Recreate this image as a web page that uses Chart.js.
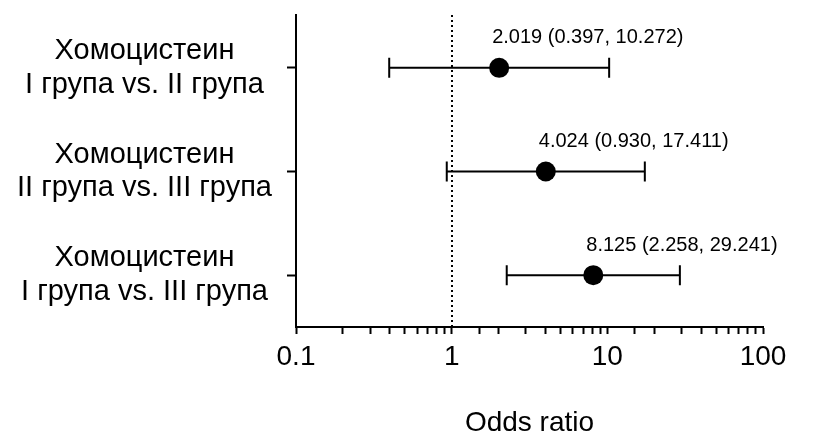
<!DOCTYPE html>
<html>
<head>
<meta charset="utf-8">
<script src="https://cdn.jsdelivr.net/npm/chart.js@4/dist/chart.umd.min.js"></script>
<style>
  html, body { margin: 0; padding: 0; background: #fff; }
  #wrap { width: 814px; height: 439px; position: relative; }
</style>
</head>
<body>
<div id="wrap"><canvas id="chart"></canvas></div>
<script>
// rows, top to bottom
const rowLabels = [
  ['Хомоцистеин', 'I група vs. II група'],
  ['Хомоцистеин', 'II група vs. III група'],
  ['Хомоцистеин', 'I група vs. III група'],
];
const rowIds = [1, 2, 3];
const oddsRatio = [2.019, 4.024, 8.125];
const ciLow = [0.397, 0.930, 2.258];
const ciHigh = [10.272, 17.411, 29.241];

const xTickValues = [0.1, 1, 10, 100];
const xTickLabels = ['0.1', '1', '10', '100'];
const refLine = 1;

const FONT = '"Liberation Sans", Arial, Helvetica, sans-serif';
const INK = '#000';

// whiskers + dotted reference line, under the points
const forestPlugin = {
  id: 'forest',
  beforeDatasetsDraw(chart) {
    const { ctx, chartArea, scales: { x, y } } = chart;
    ctx.save();
    ctx.strokeStyle = INK;

    const rx = Math.round(x.getPixelForValue(refLine));
    ctx.lineWidth = 2;
    ctx.setLineDash([2, 3]);
    ctx.beginPath();
    ctx.moveTo(rx, chartArea.top);
    ctx.lineTo(rx, chartArea.bottom);
    ctx.stroke();
    ctx.setLineDash([]);

    rowIds.forEach((r, i) => {
      const py = y.getPixelForValue(r);
      const x0 = x.getPixelForValue(ciLow[i]);
      const x1 = x.getPixelForValue(ciHigh[i]);
      ctx.beginPath();
      ctx.moveTo(x0, py);
      ctx.lineTo(x1, py);
      ctx.moveTo(x0, py - 10);
      ctx.lineTo(x0, py + 10);
      ctx.moveTo(x1, py - 10);
      ctx.lineTo(x1, py + 10);
      ctx.stroke();
    });
    ctx.restore();
  },
  afterDatasetsDraw(chart) {
    const { ctx, scales: { x, y } } = chart;
    ctx.save();
    ctx.fillStyle = INK;
    ctx.font = '20px ' + FONT;
    ctx.textAlign = 'left';
    ctx.textBaseline = 'middle';
    rowIds.forEach((r, i) => {
      const txt = `${oddsRatio[i].toFixed(3)} (${ciLow[i].toFixed(3)}, ${ciHigh[i].toFixed(3)})`;
      ctx.fillText(txt, x.getPixelForValue(oddsRatio[i]) - 7, y.getPixelForValue(r) - 30);
    });
    ctx.restore();
  }
};

new Chart(document.getElementById('chart'), {
  type: 'scatter',
  data: {
    datasets: [{
      data: rowIds.map((r, i) => ({ x: oddsRatio[i], y: r })),
      pointRadius: 10,
      pointHoverRadius: 10,
      backgroundColor: INK,
      borderColor: INK,
      borderWidth: 0,
    }],
  },
  options: {
    responsive: true,
    maintainAspectRatio: false,
    animation: false,
    layout: { padding: { top: 15, right: 51, bottom: 0, left: 0 } },
    plugins: { legend: { display: false }, tooltip: { enabled: false } },
    scales: {
      x: {
        type: 'logarithmic',
        min: 0.1,
        max: 100,
        grid: {
          drawOnChartArea: false,
          drawTicks: true,
          tickLength: 7,
          tickColor: INK,
          tickWidth: 2,
        },
        border: { display: true, color: INK, width: 2 },
        ticks: {
          autoSkip: false,
          maxRotation: 0,
          padding: 6,
          color: INK,
          font: { family: FONT, size: 28 },
          callback: (v) => {
            const k = xTickValues.findIndex(t => Math.abs(v / t - 1) < 1e-6);
            return k >= 0 ? xTickLabels[k] : '';
          },
        },
        title: {
          display: true,
          text: 'Odds ratio',
          color: INK,
          font: { family: FONT, size: 28, lineHeight: 1.1 },
          padding: { top: 0, bottom: 0 },
        },
        afterFit(scale) { scale.height = 112; },
      },
      y: {
        type: 'linear',
        reverse: true,
        min: 0.49,
        max: 3.5,
        afterBuildTicks(scale) { scale.ticks = rowIds.map(v => ({ value: v })); },
        grid: {
          drawOnChartArea: false,
          drawTicks: true,
          tickLength: 9,
          tickColor: INK,
          tickWidth: 2,
        },
        border: { display: true, color: INK, width: 2 },
        ticks: {
          crossAlign: 'center',
          padding: 15,
          color: INK,
          font: { family: FONT, size: 29, lineHeight: 1.15 },
          callback: (v) => rowLabels[rowIds.indexOf(v)] || '',
        },
        afterFit(scale) {
          scale.width = 296;
          scale.paddingTop = 0;
          scale.paddingBottom = 0;
        },
      },
    },
  },
  plugins: [forestPlugin],
});
</script>
</body>
</html>
